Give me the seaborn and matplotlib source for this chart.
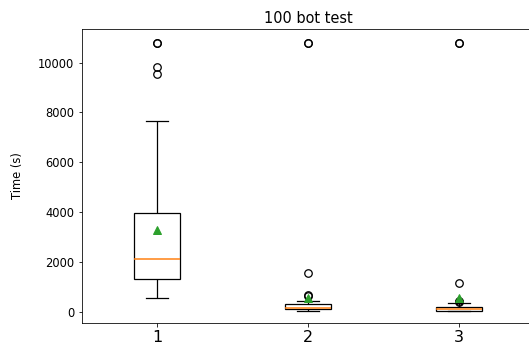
import matplotlib
matplotlib.use("Agg")
import matplotlib.pyplot as plt
import pandas as pd
import seaborn as sns

categories = ["1", "2", "3"]
title = "100 bot test"
ylabel = "Time (s)"
yticks = [0, 2000, 4000, 6000, 8000, 10000]

times_1 = [562, 700, 820, 930, 1020, 1100, 1170, 1230, 1280, 1300,
           1317, 1400, 1500, 1600, 1700, 1800, 1900, 1980, 2040, 2090,
           2142, 2250, 2400, 2550, 2700, 2900, 3100, 3350, 3600, 3900,
           4204, 4700, 5200, 5800, 6300, 7670, 9546, 9840, 10800, 10800]

times_2 = [40, 52, 60, 66, 71, 75, 79, 82, 85, 88, 90, 92, 94, 95, 97, 98,
           104, 108, 112, 116, 120, 124, 128, 132, 136, 139, 142, 145, 148, 150, 152, 153,
           157, 165, 175, 185, 195, 205, 215, 225, 235, 245, 255, 262, 270, 277, 284, 290,
           310, 325, 340, 355, 370, 385, 400, 410, 420, 432, 442,
           610, 650, 1542, 10800, 10800]

times_3 = [10, 15, 19, 23, 26, 29, 31, 33, 35, 36, 37, 38, 39, 43,
           47, 52, 57, 62, 67, 71, 75, 79, 83, 86, 88, 92,
           96, 100, 105, 110, 115, 120, 125, 130, 135, 140, 145, 165,
           185, 205, 225, 245, 262, 280, 297,
           355, 380, 415, 1140, 10800, 10800]

df = pd.DataFrame({
    "group": [categories[0]] * len(times_1) + [categories[1]] * len(times_2) + [categories[2]] * len(times_3),
    "time": times_1 + times_2 + times_3,
})

W, H = 529, 356
fig = plt.figure(figsize=(W / 72, H / 72), dpi=72)
ax = fig.add_axes([81.5 / W, 1 - 323 / H, 453 / W, (323 - 29) / H])

sns.boxplot(
    data=df, x="group", y="time", order=categories, ax=ax,
    width=0.3, fill=True, color="white", linecolor="black", linewidth=1.25, showmeans=True,
    fliersize=7.5,
    boxprops=dict(facecolor="white", edgecolor="black"),
    medianprops=dict(color="#ff7f0e", linewidth=1.25),
    meanprops=dict(marker="^", markerfacecolor="#2ca02c", markeredgecolor="#2ca02c", markersize=7.5),
    flierprops=dict(marker="o", markerfacecolor="none", markeredgecolor="black", markersize=7.5,
                    markeredgewidth=1.25),
)

for cont in ax.containers:
    if hasattr(cont, "medians"):
        for m in cont.medians:
            m.set_color("#ff7f0e")
            m.set_alpha(1)
            m.set_zorder(5)
            m.set_snap(True)
            m.set_linewidth(1.5)

ax.set_ylim(-460, 11350)
ax.set_yticks(yticks)
ax.tick_params(axis="y", labelsize=11.5)
ax.tick_params(axis="x", labelsize=16)
ax.set_xlabel("")
ax.set_ylabel(ylabel, fontsize=11.5, labelpad=14)
ax.set_title(title, fontsize=14.5)

fig.savefig("out.png", dpi=72)
